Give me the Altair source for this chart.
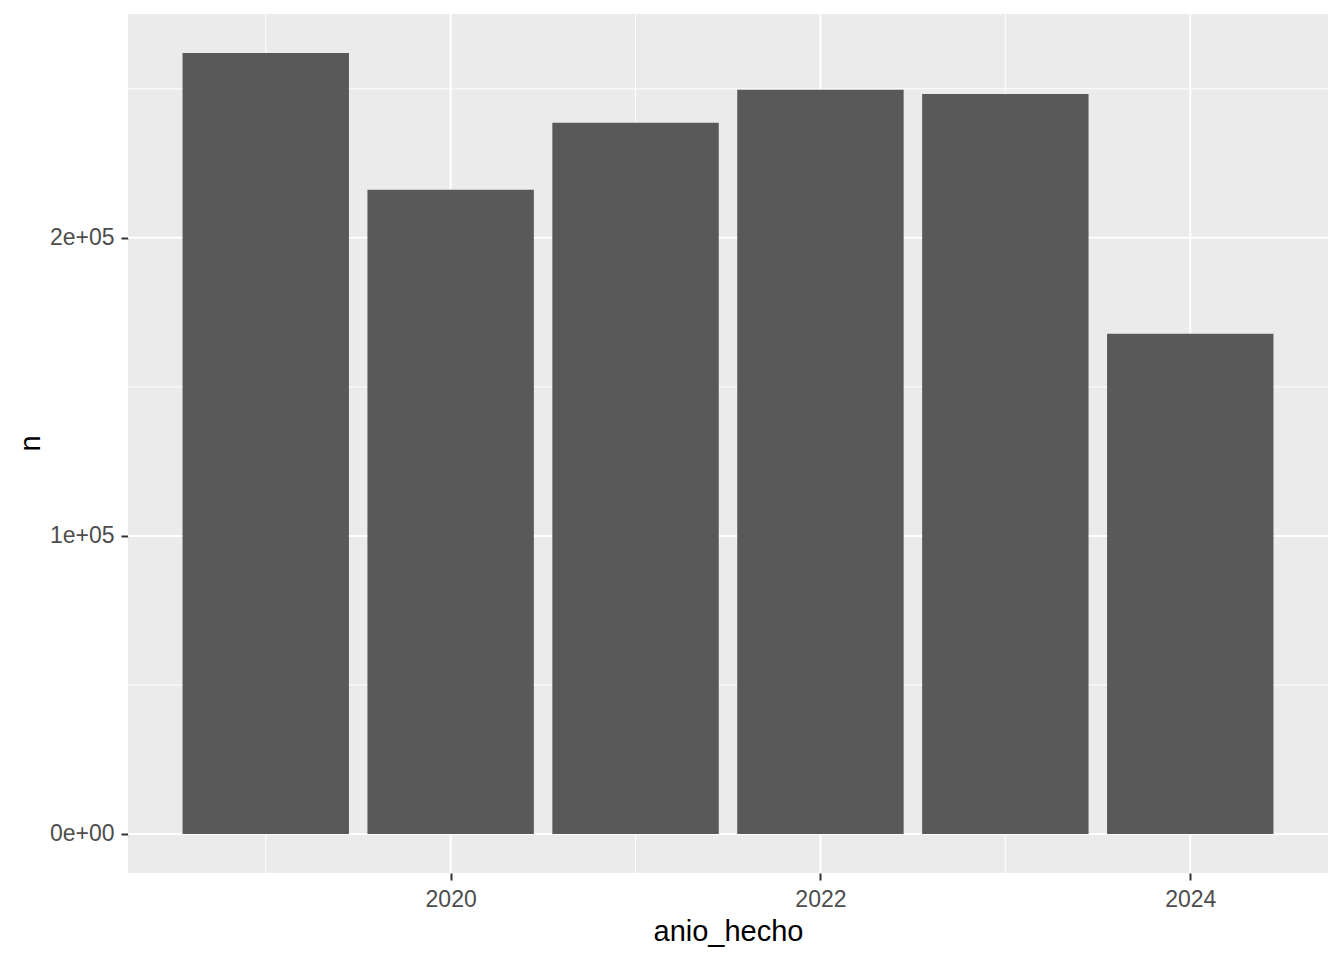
import altair as alt
import pandas as pd

years = [2019, 2020, 2021, 2022, 2023, 2024]
counts = [262000, 216100, 238600, 249700, 248300, 167800]

x_major = [2020, 2022, 2024]
x_minor = [2019, 2021, 2023]
y_major = [0, 100000, 200000]
y_minor = [50000, 150000, 250000]

df = pd.DataFrame({"anio_hecho": years, "n": counts})
gx_major = pd.DataFrame({"v": x_major})
gx_minor = pd.DataFrame({"v": x_minor})
gy_major = pd.DataFrame({"v": y_major})
gy_minor = pd.DataFrame({"v": y_minor})

FONT = "Liberation Sans"
xscale = alt.Scale(domain=[2018.255, 2024.745], nice=False, zero=False)
yscale = alt.Scale(domain=[-13100, 275100], nice=False, zero=False)

xaxis = alt.Axis(
    values=x_major, format="d", grid=False, domain=False,
    tickColor="#333333", tickWidth=2, tickSize=7,
    labelColor="#4D4D4D", labelFontSize=23, labelFont=FONT, labelPadding=8,
    title="anio_hecho", titleFont=FONT, titleFontSize=29, titleColor="black",
    titleFontWeight="normal", titleBaseline="alphabetic", titleY=67,
)
yaxis = alt.Axis(
    values=y_major, grid=False, domain=False,
    labelExpr="datum.value == 0 ? '0e+00' : (datum.value / 100000) + 'e+05'",
    tickColor="#333333", tickWidth=2, tickSize=7,
    labelColor="#4D4D4D", labelFontSize=23, labelFont=FONT, labelPadding=7,
    title="n", titleFont=FONT, titleFontSize=29, titleColor="black",
    titleFontWeight="normal", titleAngle=-90, titleBaseline="middle",
    titleAlign="center", titleX=-98, titleY=429,
)

vminor = alt.Chart(gx_minor).mark_rule(color="white", strokeWidth=1).encode(
    x=alt.X("v:Q", scale=xscale, axis=xaxis))
vmajor = alt.Chart(gx_major).mark_rule(color="white", strokeWidth=2).encode(
    x=alt.X("v:Q", scale=xscale, axis=xaxis))
hminor = alt.Chart(gy_minor).mark_rule(color="white", strokeWidth=1).encode(
    y=alt.Y("v:Q", scale=yscale, axis=yaxis))
hmajor = alt.Chart(gy_major).mark_rule(color="white", strokeWidth=2).encode(
    y=alt.Y("v:Q", scale=yscale, axis=yaxis))

bars = alt.Chart(df).transform_calculate(
    x0="datum.anio_hecho - 0.45", x1="datum.anio_hecho + 0.45"
).mark_bar(color="#595959").encode(
    x=alt.X("x0:Q", scale=xscale, axis=xaxis),
    x2="x1:Q",
    y=alt.Y("n:Q", scale=yscale, axis=yaxis),
    y2=alt.datum(0),
)

chart = alt.layer(hminor, vminor, hmajor, vmajor, bars).properties(
    width=1200, height=859,
    autosize=alt.AutoSizeParams(type="none"),
    padding={"left": 120, "top": 6, "right": 8, "bottom": 80},
).configure_view(fill="#EBEBEB", stroke=None)

chart.save("out.html", embed_options={"renderer": "svg", "actions": False})
